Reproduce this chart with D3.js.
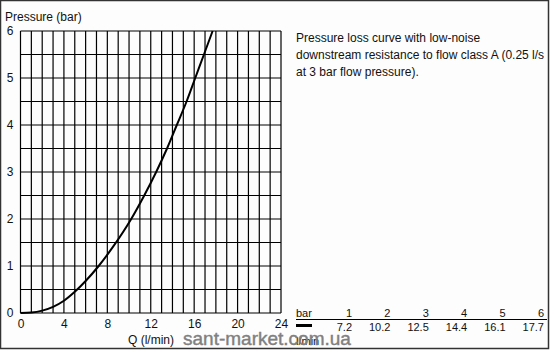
<!DOCTYPE html>
<html>
<head>
<meta charset="utf-8">
<script src="https://cdn.jsdelivr.net/npm/d3@7"></script>
<style>
  body { margin: 0; background: #fff; }
  svg { display: block; font-family: "Liberation Sans", Arial, sans-serif; }
</style>
</head>
<body>
<div id="chart"></div>
<script>
// curve points: flow (l/min) and pressure (bar)
const flow = [0, 1, 2, 3, 4, 5, 6, 7.2, 8.5, 10.2, 11.4, 12.5, 13.5, 14.4, 15.3, 16.1, 16.9, 17.7];
const pressure = [0, 0.01, 0.05, 0.13, 0.26, 0.45, 0.68, 1, 1.4, 2, 2.5, 3, 3.5, 4, 4.5, 5, 5.5, 6];

const xTicks = [0, 4, 8, 12, 16, 20, 24];
const yTicks = [0, 1, 2, 3, 4, 5, 6];

// table below the description
const tableBar = [1, 2, 3, 4, 5, 6];
const tableFlow = ["7.2", "10.2", "12.5", "14.4", "16.1", "17.7"];

const description = [
    "Pressure loss curve with low-noise",
    "downstream resistance to flow class A  (0.25 l/s",
    "at 3 bar flow pressure)."
];

const width = 550, height = 350;
const font = "Liberation Sans, Arial, sans-serif";
const svg = d3.select("#chart").append("svg")
    .attr("width", width)
    .attr("height", height);

// background and frame
svg.append("rect")
    .attr("x", 0.5).attr("y", 0.5)
    .attr("width", width - 2).attr("height", height - 2)
    .attr("fill", "#fdfdfd")
    .attr("stroke", "#333")
    .attr("stroke-width", 1.5);

const x = d3.scaleLinear().domain([0, 24]).range([20.5, 281]);
const y = d3.scaleLinear().domain([0, 6]).range([313, 31]);

const grid = svg.append("g").attr("stroke", "#000").attr("stroke-width", 1.2);

// vertical grid every 1 l/min
grid.selectAll(".vline")
    .data(d3.range(0, 25))
    .enter()
    .append("line")
    .attr("class", "vline")
    .attr("x1", d => x(d)).attr("x2", d => x(d))
    .attr("y1", y(0)).attr("y2", y(6));

// horizontal grid every 0.5 bar
grid.selectAll(".hline")
    .data(d3.range(0, 6.01, 0.5))
    .enter()
    .append("line")
    .attr("class", "hline")
    .attr("x1", x(0)).attr("x2", x(24))
    .attr("y1", d => y(d)).attr("y2", d => y(d));

// axes labels
const xAxis = d3.axisBottom(x).tickValues(xTicks).tickFormat(d3.format("d")).tickSize(0).tickPadding(6);
const gx = svg.append("g").attr("transform", `translate(0,${y(0)})`).call(xAxis);
gx.select(".domain").remove();
gx.selectAll("text").attr("font-size", 12).attr("font-family", font).attr("fill", "#111");

const yAxis = d3.axisLeft(y).tickValues(yTicks).tickFormat(d3.format("d")).tickSize(0).tickPadding(7);
const gy = svg.append("g").attr("transform", `translate(${x(0)},0)`).call(yAxis);
gy.select(".domain").remove();
gy.selectAll("text").attr("font-size", 12).attr("font-family", font).attr("fill", "#111");

svg.append("text")
    .attr("x", 5).attr("y", 21)
    .attr("font-size", 12)
    .attr("fill", "#111")
    .text("Pressure (bar)");

svg.append("text")
    .attr("x", 128).attr("y", 344)
    .attr("font-size", 12)
    .attr("fill", "#111")
    .text("Q  (l/min)");

// pressure loss curve
const line = d3.line()
    .x((d, i) => x(flow[i]))
    .y(d => y(d))
    .curve(d3.curveMonotoneX);

svg.append("path")
    .datum(pressure)
    .attr("d", line)
    .attr("fill", "none")
    .attr("stroke", "#000")
    .attr("stroke-width", 2);

// description
svg.append("g")
    .selectAll("text")
    .data(description)
    .enter()
    .append("text")
    .attr("x", 296)
    .attr("y", (d, i) => 42 + i * 17)
    .attr("font-size", 12)
    .attr("fill", "#111")
    .text(d => d);

// table
const colX = d3.scaleLinear().domain([1, 6]).range([352, 544]);
const table = svg.append("g").attr("font-size", 11).attr("fill", "#111");

table.append("text").attr("x", 296).attr("y", 317).text("bar");
table.selectAll(".tb")
    .data(tableBar)
    .enter()
    .append("text")
    .attr("class", "tb")
    .attr("x", d => colX(d))
    .attr("y", 317)
    .attr("text-anchor", "end")
    .text(d => d);

table.selectAll(".tf")
    .data(tableFlow)
    .enter()
    .append("text")
    .attr("class", "tf")
    .attr("x", (d, i) => colX(tableBar[i]))
    .attr("y", 331)
    .attr("text-anchor", "end")
    .text(d => d);

table.append("line")
    .attr("x1", 296).attr("x2", 547)
    .attr("y1", 319.5).attr("y2", 319.5)
    .attr("stroke", "#000").attr("stroke-width", 1);

table.append("rect")
    .attr("x", 296).attr("y", 324)
    .attr("width", 16).attr("height", 3)
    .attr("fill", "#000");

table.append("text").attr("x", 296).attr("y", 345).text("l/min");

// watermark
svg.append("text")
    .attr("x", 183).attr("y", 345)
    .attr("font-family", font)
    .attr("font-size", 19)
    .attr("fill", "#808080")
    .attr("stroke", "#808080")
    .attr("stroke-width", 0.4)
    .text("sant-market.com.ua");
</script>
</body>
</html>
